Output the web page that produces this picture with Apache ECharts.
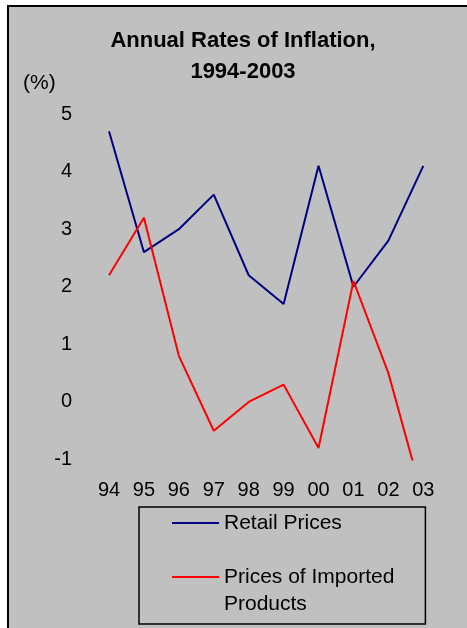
<!DOCTYPE html>
<html>
<head>
<meta charset="utf-8">
<script src="https://cdn.jsdelivr.net/npm/echarts@6/dist/echarts.min.js"></script>
<style>
  html, body { margin: 0; padding: 0; background: #ffffff; }
  #chart { width: 467px; height: 628px; }
</style>
</head>
<body>
<div id="chart"></div>
<script>
// Years (two-digit labels) and annual inflation rates, in %
const years = ['94', '95', '96', '97', '98', '99', '00', '01', '02', '03'];
const retailPrices = [4.7, 2.6, 3.0, 3.6, 2.2, 1.7, 4.1, 2.0, 2.8, 4.1];
const importedPrices = [2.2, 3.2, 0.8, -0.5, 0.0, 0.3, -0.8, 2.1, 0.5, -1.7];
const yTicks = { min: -1, max: 5, interval: 1 };

const FONT = "'Liberation Sans', Arial, sans-serif";

const chart = echarts.init(document.getElementById('chart'), null, { renderer: 'canvas' });

chart.setOption({
  animation: false,
  backgroundColor: '#ffffff',
  textStyle: { fontFamily: FONT, color: '#000000' },
  graphic: [
    // framed grey panel
    { type: 'rect', z: -20, silent: true,
      shape: { x: 7, y: 5, width: 460, height: 623 },
      style: { fill: '#000000' } },
    { type: 'rect', z: -19, silent: true,
      shape: { x: 9, y: 7, width: 458, height: 621 },
      style: { fill: '#c0c0c0' } },
    { type: 'text', left: 23, top: 73, silent: true,
      style: { text: '(%)', font: '21px ' + FONT, fill: '#000000' } }
  ],
  title: {
    text: 'Annual Rates of Inflation,\n1994-2003',
    left: 243,
    top: 25,
    padding: 0,
    textAlign: 'center',
    textStyle: { fontFamily: FONT, fontSize: 22, fontWeight: 'bold', lineHeight: 31, color: '#000000' }
  },
  grid: { left: 109, right: 43.7, top: 114, bottom: 168.5 },
  xAxis: {
    type: 'category',
    data: years,
    boundaryGap: false,
    axisLine: { show: false },
    axisTick: { show: false },
    splitLine: { show: false },
    axisLabel: { fontSize: 20, lineHeight: 20, margin: 21, color: '#000000', fontFamily: FONT, interval: 0 }
  },
  yAxis: {
    type: 'value',
    min: yTicks.min,
    max: yTicks.max,
    interval: yTicks.interval,
    axisLine: { show: false },
    axisTick: { show: false },
    splitLine: { show: false },
    axisLabel: { fontSize: 20, margin: 37, color: '#000000', fontFamily: FONT }
  },
  legend: {
    orient: 'vertical',
    left: 139,
    top: 507,
    height: 400,
    padding: [2.5, 31, 6.5, 33],
    itemGap: 0,
    itemWidth: 47,
    itemHeight: 2,
    icon: 'rect',
    selectedMode: false,
    borderColor: '#000000',
    borderWidth: 1.5,
    textStyle: { fontFamily: FONT, fontSize: 21, lineHeight: 27, color: '#000000' },
    // the long name wraps onto a second line below the swatch
    formatter: function (name) {
      return name === 'Prices of Imported Products' ? '\nPrices of Imported\nProducts' : name;
    },
    data: ['Retail Prices', 'Prices of Imported Products']
  },
  series: [
    {
      name: 'Retail Prices',
      type: 'line',
      data: retailPrices,
      showSymbol: false,
      clip: true,
      color: '#000080',
      lineStyle: { color: '#000080', width: 2 }
    },
    {
      name: 'Prices of Imported Products',
      type: 'line',
      data: importedPrices,
      showSymbol: false,
      clip: true,
      color: '#ff0000',
      lineStyle: { color: '#ff0000', width: 2 }
    }
  ]
});
</script>
</body>
</html>
